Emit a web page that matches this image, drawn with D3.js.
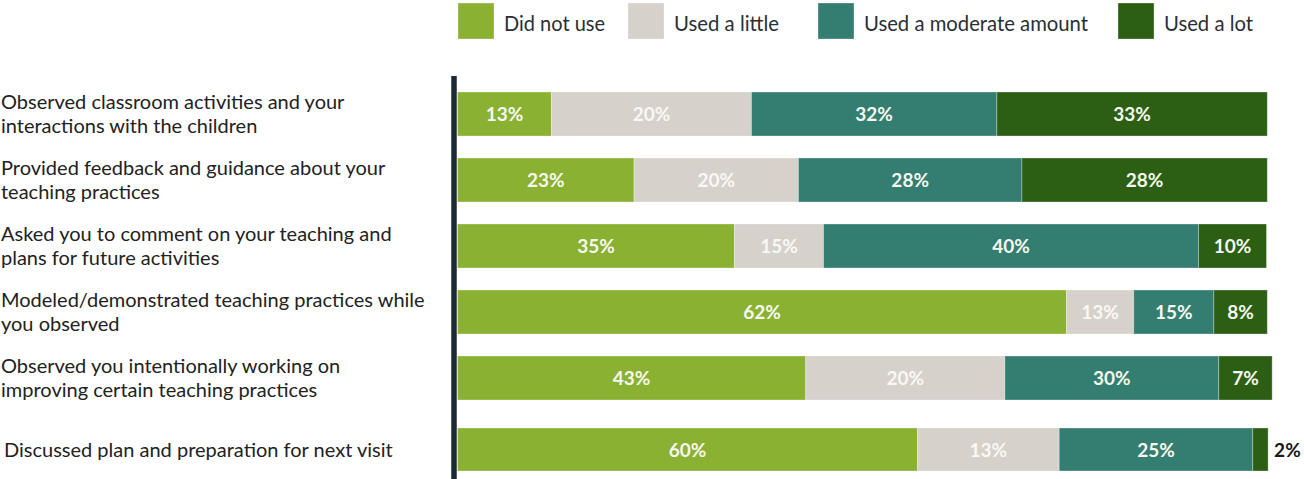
<!DOCTYPE html>
<html>
<head>
<meta charset="utf-8">
<script src="https://cdn.jsdelivr.net/npm/d3@7"></script>
<style>
  body { margin: 0; background: #fff; }
  svg { display: block; font-family: Lato, "Open Sans", sans-serif; }
</style>
</head>
<body>
<svg width="1304" height="479"></svg>
<script>
// rows, top to bottom
const categories = [
  "Observed classroom activities and your\ninteractions with the children",
  "Provided feedback and guidance about your\nteaching practices",
  "Asked you to comment on your teaching and\nplans for future activities",
  "Modeled/demonstrated teaching practices while\nyou observed",
  "Observed you intentionally working on\nimproving certain teaching practices",
  "Discussed plan and preparation for next visit"
];

const seriesNames = ["Did not use", "Used a little", "Used a moderate amount", "Used a lot"];
const seriesColors = ["#8bb133", "#d6d1ca", "#347e71", "#2c5f14"];

// segment lengths as drawn (share of the bar)
const didNotUse = [11.6, 21.8, 34.2, 75.2, 43.0, 56.8];
const usedLittle = [24.7, 20.3, 11.0, 8.3, 24.6, 17.5];
const usedModerate = [30.3, 27.6, 46.3, 9.9, 26.4, 23.9];
const usedLot = [33.4, 30.3, 8.4, 6.6, 6.6, 1.9];

// printed labels
const didNotUseLabel = ["13%", "23%", "35%", "62%", "43%", "60%"];
const usedLittleLabel = ["20%", "20%", "15%", "13%", "20%", "13%"];
const usedModerateLabel = ["32%", "28%", "40%", "15%", "30%", "25%"];
const usedLotLabel = ["33%", "28%", "10%", "8%", "7%", "2%"];

const values = [didNotUse, usedLittle, usedModerate, usedLot];
const labels = [didNotUseLabel, usedLittleLabel, usedModerateLabel, usedLotLabel];

const rows = categories.map((c, i) => {
  let row = { category: c, index: i };
  seriesNames.forEach((s, k) => {
    row[s] = values[k][i];
    row[s + "_label"] = labels[k][i];
  });
  return row;
});

const stacked = d3.stack().keys(seriesNames)(rows);

const svg = d3.select("svg");

const x = d3.scaleLinear().domain([0, 100]).range([457.5, 1267.3]);
const y = d3
  .scaleBand()
  .domain(d3.range(categories.length))
  .range([70, 488])
  .paddingInner(1 / 3)
  .paddingOuter(1 / 3);

// the last row sits a little lower in the original
const yTop = (i) => y(i) + (i === categories.length - 1 ? 6 : 0);
const barH = y.bandwidth();

// bars
const layer = svg
  .selectAll(".series")
  .data(stacked)
  .enter()
  .append("g")
  .attr("class", "series")
  .attr("fill", (d, k) => seriesColors[k]);

layer
  .selectAll("rect")
  .data((d) => d)
  .enter()
  .append("rect")
  .attr("x", (d) => x(d[0]))
  .attr("y", (d) => yTop(d.data.index))
  .attr("width", (d) => x(d[1]) - x(d[0]))
  .attr("height", (d) => (d.data.index === categories.length - 1 ? barH - 1 : barH))
  .attr("stroke", "rgba(255,255,255,0.3)")
  .attr("stroke-width", 1);

// segment labels
stacked.forEach((s, k) => {
  svg
    .append("g")
    .selectAll("text")
    .data(s)
    .enter()
    .append("text")
    .attr("x", (d) => {
      let w = x(d[1]) - x(d[0]);
      return w < 25 ? x(d[1]) + 6 : (x(d[0]) + x(d[1])) / 2;
    })
    .attr("y", (d) => yTop(d.data.index) + barH / 2)
    .attr("dy", "0.36em")
    .attr("text-anchor", (d) => (x(d[1]) - x(d[0]) < 25 ? "start" : "middle"))
    .attr("font-size", 19)
    .attr("font-weight", 700)
    .attr("fill", (d) =>
      x(d[1]) - x(d[0]) < 25 ? "#1a1a1a" : k === 1 ? "#faf8f4" : "#f6f8ee"
    )
    .text((d) => d.data[s.key + "_label"]);
});

// category labels
const catText = svg
  .append("g")
  .selectAll("text")
  .data(categories)
  .enter()
  .append("text")
  .attr("x", (d, i) => (i === categories.length - 1 ? 4 : 1))
  .attr("y", (d, i) => {
    let n = d.split("\n").length;
    return yTop(i) + barH / 2 - (n - 1) * 12;
  })
  .attr("font-size", 20)
  .attr("fill", "#222");

catText
  .selectAll("tspan")
  .data((d) => d.split("\n"))
  .enter()
  .append("tspan")
  .attr("x", function () {
    return d3.select(this.parentNode).attr("x");
  })
  .attr("dy", (d, j) => (j === 0 ? "0.36em" : 24))
  .text((d) => d);

// axis line
svg
  .append("line")
  .attr("x1", 454)
  .attr("x2", 454)
  .attr("y1", 76)
  .attr("y2", 479)
  .attr("stroke", "#1e2a33")
  .attr("stroke-width", 5.5);

// legend
const legendX = [458, 628, 818, 1118];
const legendTextW = [101, 105, 224, 89];

const legend = svg
  .append("g")
  .selectAll("g")
  .data(seriesNames)
  .enter()
  .append("g")
  .attr("transform", (d, k) => `translate(${legendX[k]},3)`);

legend
  .append("rect")
  .attr("width", 36)
  .attr("height", 36)
  .attr("fill", (d, k) => seriesColors[k])
  .attr("stroke", "rgba(255,255,255,0.3)");

legend
  .append("text")
  .attr("x", 46)
  .attr("y", 20)
  .attr("dy", "0.36em")
  .attr("font-size", 21)
  .attr("fill", "#2a2f36")
  .attr("textLength", (d, k) => legendTextW[k])
  .attr("lengthAdjust", "spacingAndGlyphs")
  .text((d) => d);
</script>
</body>
</html>
